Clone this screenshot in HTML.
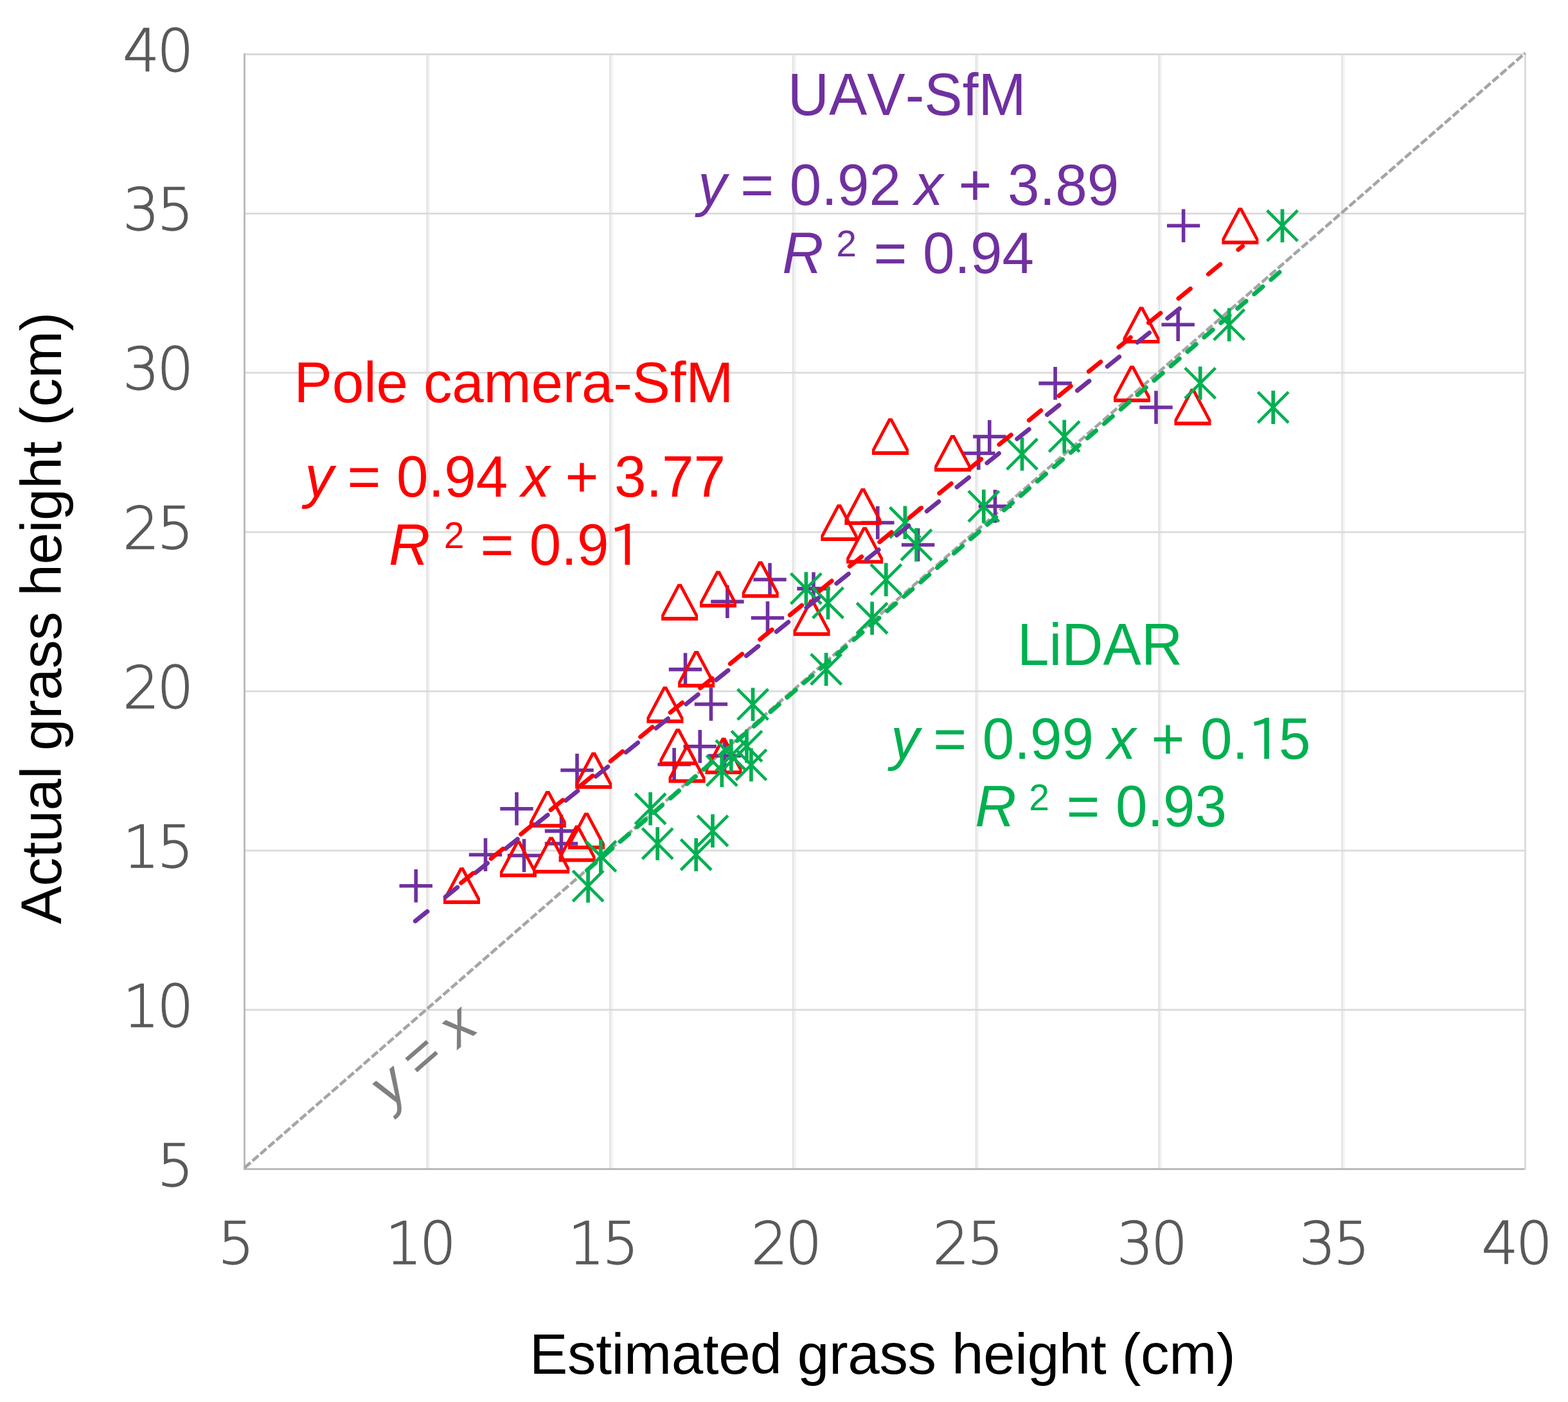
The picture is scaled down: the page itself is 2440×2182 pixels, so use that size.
<!DOCTYPE html>
<html><head><meta charset="utf-8"><title>Actual vs estimated grass height</title><style>html,body{margin:0;padding:0;background:#fff;overflow:hidden}svg{display:block}</style></head><body>
<svg xmlns="http://www.w3.org/2000/svg" width="2440" height="2182" viewBox="0 0 2440 2182">
<rect width="2440" height="2182" fill="#fff"/>
<g fill="#E3E3E3"><rect x="663.41" y="83.00" width="2.7" height="1738.00"/><rect x="948.13" y="83.00" width="2.7" height="1738.00"/><rect x="1232.84" y="83.00" width="2.7" height="1738.00"/><rect x="1517.56" y="83.00" width="2.7" height="1738.00"/><rect x="1802.27" y="83.00" width="2.7" height="1738.00"/><rect x="2086.99" y="83.00" width="2.7" height="1738.00"/></g>
<g fill="#F2F2F2"><rect x="666.11" y="83.00" width="2.9" height="1738.00"/><rect x="950.83" y="83.00" width="2.9" height="1738.00"/><rect x="1235.54" y="83.00" width="2.9" height="1738.00"/><rect x="1520.26" y="83.00" width="2.9" height="1738.00"/><rect x="1804.97" y="83.00" width="2.9" height="1738.00"/><rect x="2089.69" y="83.00" width="2.9" height="1738.00"/></g>
<g stroke="#DADADA" stroke-width="2.8"><line x1="380.50" y1="1571.64" x2="2374.80" y2="1571.64"/><line x1="380.50" y1="1323.79" x2="2374.80" y2="1323.79"/><line x1="380.50" y1="1075.93" x2="2374.80" y2="1075.93"/><line x1="380.50" y1="828.07" x2="2374.80" y2="828.07"/><line x1="380.50" y1="580.21" x2="2374.80" y2="580.21"/><line x1="380.50" y1="332.36" x2="2374.80" y2="332.36"/><line x1="380.50" y1="84.50" x2="2374.80" y2="84.50"/></g>
<line x1="2373.50" y1="83.00" x2="2373.50" y2="1821.00" stroke="#D9D9D9" stroke-width="2.7"/>
<g stroke="#BABABA" stroke-width="2.9"><line x1="380.5" y1="83.1" x2="380.5" y2="1821.0"/><line x1="379.1" y1="1819.5" x2="2372.2" y2="1819.5"/></g>
<line x1="380.5" y1="1817.5" x2="2373.5" y2="82.5" stroke="#A5A5A5" stroke-width="4.7" stroke-dasharray="12.4 4.0"/>
<path d="M647.2 1353.1V1404.5M621.5 1378.8H672.9M755.5 1304.6V1356.0M729.8 1330.3H781.2M804.0 1233.1V1284.5M778.3 1258.8H829.7M815.5 1305.8V1357.2M789.8 1331.5H841.2M873.5 1267.7V1319.1M847.8 1293.4H899.2M873.5 1287.3V1338.7M847.8 1313.0H899.2M898.0 1173.1V1224.5M872.3 1198.8H923.7M1106.4 1070.3V1121.7M1080.7 1096.0H1132.1M1089.2 1136.0V1187.4M1063.5 1161.7H1114.9M1049.1 1164.0V1215.4M1023.4 1189.7H1074.8M1127.5 1150.5V1201.9M1101.8 1176.2H1153.2M1194.5 936.1V987.5M1168.8 961.8H1220.2M1198.0 876.3V927.7M1172.3 902.0H1223.7M1266.0 890.4V941.8M1240.3 916.1H1291.7M1365.8 787.8V839.2M1340.1 813.5H1391.5M1428.6 822.3V873.7M1402.9 848.0H1454.3M1548.5 762.3V813.7M1522.8 788.0H1574.2M1539.8 653.8V705.2M1514.1 679.5H1565.5M1522.8 679.8V731.2M1497.1 705.5H1548.5M1642.1 570.9V622.3M1616.4 596.6H1667.8M1799.0 608.3V659.7M1773.3 634.0H1824.7M1833.2 479.6V531.0M1807.5 505.3H1858.9M1841.6 325.6V377.0M1815.9 351.3H1867.3M1131.9 910.7V962.1M1106.2 936.4H1157.6M1066.5 1016.2V1067.6M1040.8 1041.9H1092.2" stroke="#7030A0" stroke-width="5.6" fill="none"/>
<path d="M715.6 1350.0H721.4L747.0 1398.3V1407.0H690.0V1398.3ZM718.5 1354.9L693.8 1401.3H743.2ZM803.6 1308.3H809.4L835.0 1356.6V1365.3H778.0V1356.6ZM806.5 1313.2L781.8 1359.6H831.2ZM854.8 1302.4H860.6L886.2 1350.7V1359.4H829.2V1350.7ZM857.7 1307.3L833.0 1353.7H882.4ZM849.4 1230.9H855.2L880.8 1279.2V1287.9H823.8V1279.2ZM852.3 1235.8L827.6 1282.2H877.0ZM909.6 1264.7H915.4L941.0 1313.0V1321.7H884.0V1313.0ZM912.5 1269.6L887.8 1316.0H937.2ZM895.2 1284.4H901.0L926.6 1332.7V1341.4H869.6V1332.7ZM898.1 1289.3L873.4 1335.7H922.8ZM920.8 1170.8H926.6L952.2 1219.1V1227.8H895.2V1219.1ZM923.7 1175.7L899.0 1222.1H948.4ZM1032.0 1068.4H1037.8L1063.4 1116.7V1125.4H1006.4V1116.7ZM1034.9 1073.3L1010.2 1119.7H1059.6ZM1051.9 1134.0H1057.7L1083.3 1182.3V1191.0H1026.3V1182.3ZM1054.8 1138.9L1030.1 1185.3H1079.5ZM1066.1 1161.5H1071.9L1097.5 1209.8V1218.5H1040.5V1209.8ZM1069.0 1166.4L1044.3 1212.8H1093.7ZM1123.1 1148.0H1128.9L1154.5 1196.3V1205.0H1097.5V1196.3ZM1126.0 1152.9L1101.3 1199.3H1150.7ZM1080.7 1013.0H1086.5L1112.1 1061.3V1070.0H1055.1V1061.3ZM1083.6 1017.9L1058.9 1064.3H1108.3ZM1180.3 873.5H1186.1L1211.7 921.8V930.5H1154.7V921.8ZM1183.2 878.4L1158.5 924.8H1207.9ZM1260.2 932.8H1266.0L1291.6 981.1V989.8H1234.6V981.1ZM1263.1 937.7L1238.4 984.1H1287.8ZM1382.6 651.0H1388.4L1414.0 699.3V708.0H1357.0V699.3ZM1385.5 655.9L1360.8 702.3H1410.2ZM1479.7 677.0H1485.5L1511.1 725.3V734.0H1454.1V725.3ZM1482.6 681.9L1457.9 728.3H1507.3ZM1339.9 760.0H1345.7L1371.3 808.3V817.0H1314.3V808.3ZM1342.8 764.9L1318.1 811.3H1367.5ZM1342.7 820.2H1348.5L1374.1 868.5V877.2H1317.1V868.5ZM1345.6 825.1L1320.9 871.5H1370.3ZM1302.9 785.0H1308.7L1334.3 833.3V842.0H1277.3V833.3ZM1305.8 789.9L1281.1 836.3H1330.5ZM1773.1 477.6H1778.9L1804.5 525.9V534.6H1747.5V525.9ZM1776.0 482.5L1751.3 528.9H1800.7ZM1758.6 569.0H1764.4L1790.0 617.3V626.0H1733.0V617.3ZM1761.5 573.9L1736.8 620.3H1786.2ZM1853.0 605.0H1858.8L1884.4 653.3V662.0H1827.4V653.3ZM1855.9 609.9L1831.2 656.3H1880.6ZM1927.0 323.3H1932.8L1958.4 371.6V380.3H1901.4V371.6ZM1929.9 328.2L1905.2 374.6H1954.6ZM1114.6 888.5H1120.4L1146.0 936.8V945.5H1089.0V936.8ZM1117.5 893.4L1092.8 939.8H1142.2ZM1054.7 908.7H1060.5L1086.1 957.0V965.7H1029.1V957.0ZM1057.6 913.6L1032.9 960.0H1082.3Z" fill="#FF0000" fill-rule="nonzero"/>
<path d="M891.3 1355.2L938.9 1402.8M891.3 1402.8L938.9 1355.2M911.1 1308.8L958.7 1356.4M911.1 1356.4L958.7 1308.8M988.3 1235.0L1035.9 1282.6M988.3 1282.6L1035.9 1235.0M999.4 1289.2L1047.0 1336.8M999.4 1336.8L1047.0 1289.2M1147.7 1072.5L1195.3 1120.1M1147.7 1120.1L1195.3 1072.5M1099.5 1175.5L1147.1 1223.1M1099.5 1223.1L1147.1 1175.5M1114.0 1152.2L1161.6 1199.8M1114.0 1199.8L1161.6 1152.2M1138.2 1137.6L1185.8 1185.2M1138.2 1185.2L1185.8 1137.6M1145.1 1166.6L1192.7 1214.2M1145.1 1214.2L1192.7 1166.6M1085.2 1269.3L1132.8 1316.9M1085.2 1316.9L1132.8 1269.3M1059.4 1306.4L1107.0 1354.0M1059.4 1354.0L1107.0 1306.4M1230.6 892.3L1278.2 939.9M1230.6 939.9L1278.2 892.3M1264.7 914.4L1312.3 962.0M1264.7 962.0L1312.3 914.4M1333.3 938.4L1380.9 986.0M1333.3 986.0L1380.9 938.4M1355.0 878.3L1402.6 925.9M1355.0 925.9L1402.6 878.3M1261.8 1017.9L1309.4 1065.5M1261.8 1065.5L1309.4 1017.9M1384.6 789.5L1432.2 837.1M1384.6 837.1L1432.2 789.5M1402.2 824.2L1449.8 871.8M1402.2 871.8L1449.8 824.2M1507.0 764.2L1554.6 811.8M1507.0 811.8L1554.6 764.2M1566.7 683.0L1614.3 730.6M1566.7 730.6L1614.3 683.0M1632.4 655.6L1680.0 703.2M1632.4 703.2L1680.0 655.6M1888.9 481.6L1936.5 529.2M1888.9 529.2L1936.5 481.6M1843.9 572.6L1891.5 620.2M1843.9 620.2L1891.5 572.6M1957.4 610.2L2005.0 657.8M1957.4 657.8L2005.0 610.2M1971.7 327.5L2019.3 375.1M1971.7 375.1L2019.3 327.5" stroke="#00B050" stroke-width="4.6" fill="none"/>
<path d="M915.1 1353.2V1404.8M934.9 1306.8V1358.4M1012.1 1233.0V1284.6M1023.2 1287.2V1338.8M1171.5 1070.5V1122.1M1123.3 1173.5V1225.1M1137.8 1150.2V1201.8M1162.0 1135.6V1187.2M1168.9 1164.6V1216.2M1109.0 1267.2V1318.9M1083.2 1304.4V1356.0M1254.4 890.2V942.0M1288.5 912.4V964.1M1357.1 936.4V988.1M1378.8 876.2V928.0M1285.6 1015.9V1067.5M1408.4 787.4V839.1M1426.0 822.1V873.9M1530.8 762.1V813.9M1590.5 680.9V732.6M1656.2 653.5V705.2M1912.7 479.5V531.2M1867.7 570.5V622.2M1981.2 608.1V659.9M1995.5 325.4V377.2" stroke="#00B050" stroke-width="5.7" fill="none"/>
<line x1="911.4" y1="1356.2" x2="1999.2" y2="416.7" stroke="#00B050" stroke-width="6.8" stroke-dasharray="17.7 16.6" stroke-dashoffset="-2.6" stroke-linecap="round"/>
<line x1="643.5" y1="1435.7" x2="1845.3" y2="472.5" stroke="#7030A0" stroke-width="6.8" stroke-dasharray="24 36" stroke-dashoffset="-3.5" stroke-linecap="round"/>
<line x1="714.8" y1="1376.4" x2="1933.6" y2="383.2" stroke="#FF0000" stroke-width="6.8" stroke-dasharray="24 36" stroke-dashoffset="-3.5" stroke-linecap="round"/>
<g font-family="'DejaVu Sans', sans-serif" font-weight="200" font-size="90" letter-spacing="-4" fill="#595959" stroke="#595959" stroke-width="1.3"><text x="297.5" y="1845.5" text-anchor="end">5</text><text x="297.5" y="1597.6" text-anchor="end">10</text><text x="297.5" y="1349.8" text-anchor="end">15</text><text x="297.5" y="1101.9" text-anchor="end">20</text><text x="297.5" y="854.1" text-anchor="end">25</text><text x="297.5" y="606.2" text-anchor="end">30</text><text x="297.5" y="358.4" text-anchor="end">35</text><text x="297.5" y="110.5" text-anchor="end">40</text><text x="365.3" y="1967" text-anchor="middle">5</text><text x="652.7" y="1967" text-anchor="middle">10</text><text x="937.0" y="1967" text-anchor="middle">15</text><text x="1222.0" y="1967" text-anchor="middle">20</text><text x="1504.7" y="1967" text-anchor="middle">25</text><text x="1791.1" y="1967" text-anchor="middle">30</text><text x="2074.7" y="1967" text-anchor="middle">35</text><text x="2358.7" y="1967" text-anchor="middle">40</text></g>
<g font-family="'Liberation Sans', Arial, sans-serif" font-size="89" xml:space="preserve" style="font-kerning:none"><text fill="#7030A0" x="1225.7" y="179.5" transform="translate(0 179.5) scale(1 1.035) translate(0 -179.5)">UAV-SfM</text><text fill="#7030A0" y="319.5" transform="translate(0 319.5) scale(1 1.022) translate(0 -319.5)"><tspan x="1086.3" font-style="italic">y</tspan><tspan x="1152.3">=</tspan><tspan x="1228.7">0.92</tspan><tspan x="1423.0" font-style="italic">x</tspan><tspan x="1491.4">+</tspan><tspan x="1568.1">3.89</tspan></text><text fill="#7030A0" y="425.3" transform="translate(0 425.3) scale(1 1.022) translate(0 -425.3)"><tspan x="1217.2" font-style="italic">R</tspan><tspan x="1301.3" y="400.0" font-size="57">2</tspan><tspan x="1359.5" y="425.3">=</tspan><tspan x="1435.9">0.94</tspan></text><text fill="#FF0000" x="457.6" y="625.6" letter-spacing="-0.27">Pole camera-SfM</text><text fill="#FF0000" y="772.9" transform="translate(0 772.9) scale(1 1.022) translate(0 -772.9)"><tspan x="474.4" font-style="italic">y</tspan><tspan x="540.5">=</tspan><tspan x="617.0">0.94</tspan><tspan x="810.9" font-style="italic">x</tspan><tspan x="879.5">+</tspan><tspan x="955.9">3.77</tspan></text><text fill="#FF0000" y="878.6" transform="translate(0 878.6) scale(1 1.022) translate(0 -878.6)"><tspan x="605.1" font-style="italic">R</tspan><tspan x="690.7" y="853.3" font-size="57">2</tspan><tspan x="747.6" y="878.6">=</tspan><tspan x="823.7">0.9<tspan x="947.1" dy="1" font-family="IPAPGothic, 'Liberation Sans', sans-serif" font-size="86">1</tspan></tspan></text><text fill="#00B050" x="1583.0" y="1034.6" transform="translate(0 1034.6) scale(1 1.035) translate(0 -1034.6)">LiDAR</text><text fill="#00B050" y="1180.7" transform="translate(0 1180.7) scale(1 1.022) translate(0 -1180.7)"><tspan x="1386.3" font-style="italic">y</tspan><tspan x="1452.3">=</tspan><tspan x="1528.7">0.99</tspan><tspan x="1723.0" font-style="italic">x</tspan><tspan x="1791.4">+</tspan><tspan x="1868.1">0.<tspan x="1941.8" dy="1" font-family="IPAPGothic, 'Liberation Sans', sans-serif" font-size="86">1</tspan><tspan x="1990.1" dy="-1">5</tspan></tspan></text><text fill="#00B050" y="1286.5" transform="translate(0 1286.5) scale(1 1.022) translate(0 -1286.5)"><tspan x="1517.2" font-style="italic">R</tspan><tspan x="1601.3" y="1261.2" font-size="57">2</tspan><tspan x="1659.5" y="1286.5">=</tspan><tspan x="1735.9">0.93</tspan></text><text fill="#000" x="824" y="2137.8" letter-spacing="-0.36">Estimated grass height (cm)</text><text fill="#000" transform="translate(95.2 1438.3) rotate(-90)" x="0" y="0" letter-spacing="-0.3">Actual grass height (cm)</text><text fill="#808080" font-size="89" text-anchor="middle" transform="translate(653.8 1644.1) rotate(-41.04)" x="0" y="30.5"><tspan font-style="italic" dx="4">y</tspan><tspan dx="-4"> = </tspan><tspan font-style="italic">x</tspan></text></g>
</svg>
</body></html>
